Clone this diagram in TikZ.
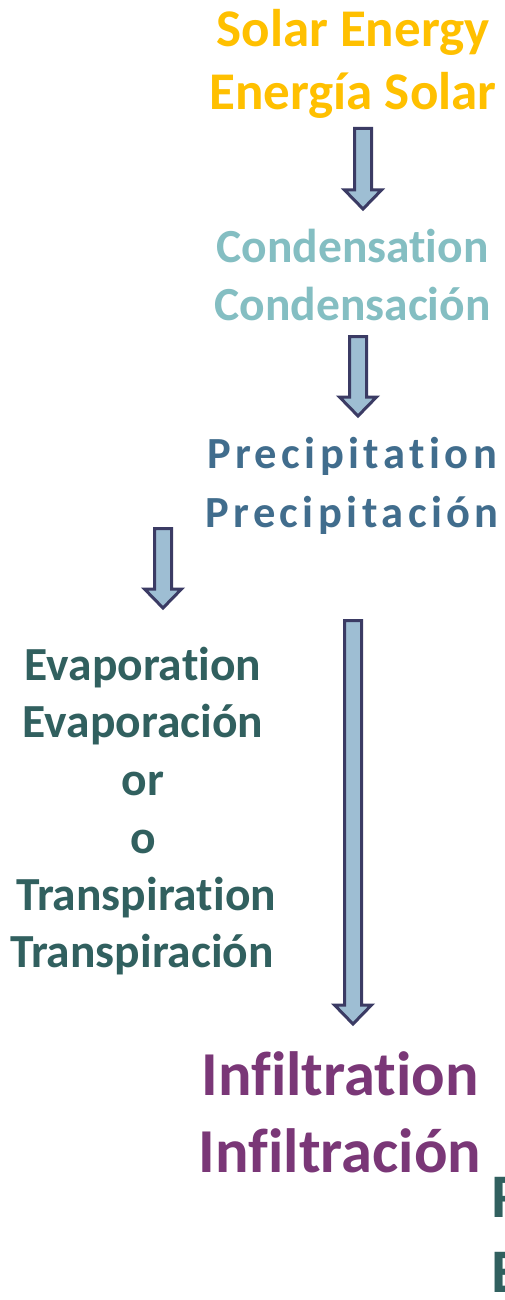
\documentclass[tikz,border=0pt]{standalone}
\usepackage{fontspec}
\setmainfont[Ligatures=NoCommon]{Carlito}
\definecolor{solar}{HTML}{FFC000}
\definecolor{cond}{HTML}{84BEC2}
\definecolor{prec}{HTML}{416D8D}
\definecolor{evap}{HTML}{31605F}
\definecolor{infl}{HTML}{7A3777}
\definecolor{afill}{HTML}{9EBED3}
\definecolor{adraw}{HTML}{3B3B64}
\tikzset{
  lbl/.style={inner sep=0pt, anchor=base, font=\bfseries\fontsize{#1}{#1}\selectfont},
  plbl/.style={inner sep=0pt, anchor=base, font=\bfseries\fontsize{#1}{#1}\selectfont\addfontfeature{LetterSpace=10}},
  barrow/.style={fill=afill, draw=adraw, line width=3pt, line join=miter},
}
\newcommand\blockarrow[3]{%
  \draw[barrow] (#1-8.5,-#2) -- (#1+8.5,-#2) -- (#1+8.5,-#3+19) -- (#1+18.5,-#3+19)
    -- (#1,-#3) -- (#1-18.5,-#3+19) -- (#1-8.5,-#3+19) -- cycle;}
\begin{document}
\begin{tikzpicture}[x=1pt,y=1pt]
\useasboundingbox (0,0) rectangle (504,-1300);
\clip (0,0) rectangle (504,-1300);
\fill[white] (0,0) rectangle (504,-1300);
% Solar energy
\node[lbl=53, text=solar] (solA) at (353,-47) {Solar Energy};
\node[lbl=53, text=solar] (solB) at (353,-110) {Energía Solar};
\blockarrow{363}{128.5}{209}
% Condensation
\node[lbl=47.5, text=cond] (conA) at (352.5,-262) {Condensation};
\node[lbl=47.5, text=cond] (conB) at (352.5,-320) {Condensación};
\blockarrow{358}{336.5}{416}
% Precipitation
\node[plbl=44.5, text=prec] (preA) at (352,-468) {Precipitation};
\node[plbl=44.5, text=prec] (preB) at (352,-527) {Precipitación};
\blockarrow{163}{528.5}{608}
\blockarrow{353}{620.5}{1024}
% Evaporation
\node[lbl=47.5, text=evap] (evA) at (143,-680) {Evaporation};
\node[lbl=47.5, text=evap] (evB) at (143,-737) {Evaporación};
\node[lbl=47.5, text=evap] (evC) at (143,-795) {or};
\node[lbl=47.5, text=evap] (evD) at (143,-853) {o};
\node[lbl=47.5, text=evap] (evE) at (146,-910) {Transpiration};
\node[lbl=47.5, text=evap] (evF) at (142,-967) {Transpiración};
% Infiltration
\node[lbl=62.5, text=infl] (inA) at (340,-1095) {Infiltration};
\node[lbl=62.5, text=infl] (inB) at (340,-1172) {Infiltración};
% cut-off labels at right edge
\node[lbl=62, text=evap, anchor=base west] (roA) at (491,-1217) {Runoff};
\node[lbl=62, text=evap, anchor=base west] (roB) at (491,-1292) {Escorrentía};
\end{tikzpicture}
\end{document}
